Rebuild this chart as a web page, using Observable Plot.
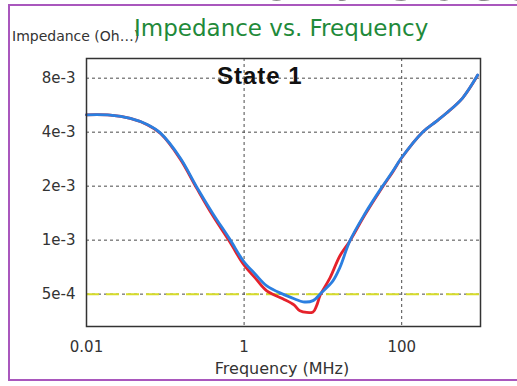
<!DOCTYPE html>
<html>
<head>
<meta charset="utf-8">
<script src="https://cdn.jsdelivr.net/npm/d3@7"></script>
<script src="https://cdn.jsdelivr.net/npm/@observablehq/plot@0.6"></script>
<style>
  html, body { margin: 0; padding: 0; background: #fff; }
  #page { position: relative; width: 517px; height: 386px; overflow: hidden; background: #fff; }
  #frame { position: absolute; left: 8px; top: 4px; width: 600px; height: 377px; border: 2.5px solid #a957bd; box-sizing: border-box; }
  .txt { position: absolute; white-space: nowrap; }
  #chart { position: absolute; left: 0; top: 0; }
</style>
</head>
<body>
<div id="page">
  <div class="txt" style="left:220px; top:-58px; font:bold 68px/68px 'Liberation Sans'; color:#111;">20% Cost</div>
  <div id="frame"></div>
  <div id="chart"></div>
  <div class="txt" style="left:12px; top:29px; font:14px/14px 'DejaVu Sans'; color:#333;">Impedance (Oh…)</div>
  <div class="txt" style="left:134px; top:17px; font:23px/23px 'DejaVu Sans'; color:#1f8a3a;">Impedance vs. Frequency</div>
  <div class="txt" style="left:217px; top:64px; font:bold 24px/24px 'Liberation Sans'; letter-spacing:1px; color:#111;">State 1</div>
  <div class="txt" style="left:282px; top:361px; transform:translateX(-50%); font:16px/16px 'DejaVu Sans'; color:#333;">Frequency (MHz)</div>
</div>
<script>
// Frequencies (MHz) and impedances (Ohms)
const freqBlue = [0.01, 0.02, 0.036, 0.059, 0.087, 0.155, 0.25, 0.4, 0.66, 0.98, 1.38, 1.94, 3.1, 4.4, 5.6, 7.5, 9.6, 13.4, 16.4, 22, 34, 55, 77, 99, 184, 275, 368, 592, 920];
const zBlue = [5.0e-3, 4.98e-3, 4.77e-3, 4.41e-3, 3.95e-3, 2.87e-3, 1.98e-3, 1.41e-3, 1.01e-3, 7.65e-4, 6.48e-4, 5.56e-4, 5.0e-4, 4.7e-4, 4.53e-4, 4.6e-4, 5.1e-4, 5.93e-4, 7.03e-4, 9.9e-4, 1.4e-3, 1.95e-3, 2.42e-3, 2.87e-3, 4.0e-3, 4.6e-3, 5.1e-3, 6.2e-3, 8.33e-3];

const freqRed = [0.01, 0.02, 0.036, 0.059, 0.087, 0.155, 0.25, 0.4, 0.66, 0.98, 1.38, 1.94, 3.1, 4.3, 5.1, 7.5, 8.3, 9.3, 12.3, 16.4, 22, 34, 55, 77, 99, 184, 275, 368, 592, 920];
const zRed = [5.0e-3, 4.98e-3, 4.77e-3, 4.40e-3, 3.93e-3, 2.83e-3, 1.95e-3, 1.37e-3, 9.76e-4, 7.34e-4, 6.16e-4, 5.21e-4, 4.71e-4, 4.35e-4, 4.04e-4, 3.98e-4, 4.3e-4, 4.96e-4, 6.16e-4, 8.16e-4, 9.9e-4, 1.38e-3, 1.93e-3, 2.4e-3, 2.86e-3, 4.0e-3, 4.6e-3, 5.1e-3, 6.2e-3, 8.3e-3];

const limitValue = 5e-4;

const xTicks = [0.01, 1, 100];
const xTickLabels = ["0.01", "1", "100"];
const yTicks = [8e-3, 4e-3, 2e-3, 1e-3, 5e-4];
const yTickLabels = ["8e-3", "4e-3", "2e-3", "1e-3", "5e-4"];

const blue = freqBlue.map((f, i) => ({f, z: zBlue[i]}));
const red = freqRed.map((f, i) => ({f, z: zRed[i]}));
const xTickRows = xTicks.map((v, i) => ({v, label: xTickLabels[i]}));
const yTickRows = yTicks.map((v, i) => ({v, label: yTickLabels[i]}));

const chart = Plot.plot({
  width: 517,
  height: 386,
  marginTop: 58,
  marginBottom: 60,
  marginLeft: 86,
  marginRight: 37,
  style: {background: "transparent", fontFamily: "DejaVu Sans", fontSize: "15px", color: "#333"},
  x: {type: "log", domain: [0.01, 1000], axis: null},
  y: {type: "log", domain: [3.3e-4, 1.03e-2], axis: null},
  marks: [
    Plot.gridY(yTicks, {stroke: "#4a4a4a", strokeOpacity: 1, strokeDasharray: "3,3", strokeWidth: 1}),
    Plot.gridX([1, 100], {stroke: "#4a4a4a", strokeOpacity: 1, strokeDasharray: "3,3", strokeWidth: 1}),
    Plot.ruleY([limitValue], {stroke: "#d6dc2a", strokeWidth: 2, strokeDasharray: "13,7"}),
    Plot.line(red, {x: "f", y: "z", stroke: "#e5222b", strokeWidth: 2.8, curve: "catmull-rom"}),
    Plot.line(blue, {x: "f", y: "z", stroke: "#2b7fe0", strokeWidth: 2.8, curve: "catmull-rom"}),
    Plot.frame({stroke: "#333", strokeWidth: 1.5}),
    Plot.text(xTickRows, {x: "v", frameAnchor: "bottom", text: "label", lineAnchor: "top", dy: 15, fontSize: 15, fill: "#333"}),
    Plot.text(yTickRows, {y: "v", frameAnchor: "left", text: "label", textAnchor: "end", dx: -11, fontSize: 15, fill: "#333"})
  ]
});
document.getElementById("chart").appendChild(chart);
</script>
</body>
</html>
